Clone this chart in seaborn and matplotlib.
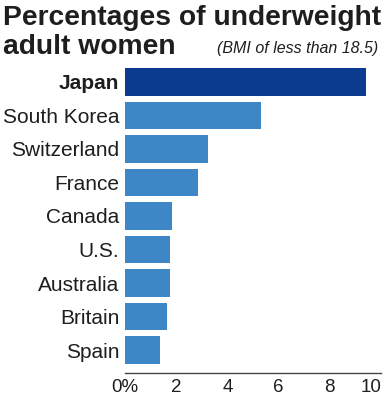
import matplotlib
matplotlib.use('Agg')
import matplotlib.pyplot as plt
import seaborn as sns
import pandas as pd

# chart data
countries = ['Japan', 'South Korea', 'Switzerland', 'France', 'Canada',
             'U.S.', 'Australia', 'Britain', 'Spain']
pct = [9.4, 5.3, 3.25, 2.85, 1.85, 1.75, 1.75, 1.65, 1.35]
xticks = [0, 2, 4, 6, 8, 10]
xtick_labels = ['0%', '2', '4', '6', '8', '10']

dark_blue = '#0a3b8e'
light_blue = '#3d87c7'
colors = [dark_blue] + [light_blue] * (len(countries) - 1)

sns.set_style('white')
plt.rcParams['font.family'] = ['Liberation Sans', 'DejaVu Sans']
txt = '#1e1e1e'

df = pd.DataFrame({'country': countries, 'pct': pct})

fig = plt.figure(figsize=(3.87, 4.0), dpi=100)
ax = fig.add_axes([125 / 387, 27 / 400, 256 / 387, 305 / 400])

sns.barplot(data=df, x='pct', y='country', hue='country', palette=colors,
            legend=False, orient='h', width=0.82, saturation=1, linewidth=0,
            ax=ax)

ax.set_xlim(0, 10)
ax.set_ylim(8 + 0.41 + 0.27, -0.41)
ax.set_xlabel('')
ax.set_ylabel('')
ax.set_xticks(xticks)
ax.set_xticklabels(xtick_labels, fontsize=13.5, color=txt)
ax.get_xticklabels()[-1].set_horizontalalignment('right')
ax.tick_params(axis='x', direction='in', length=5, width=1, color='#444444', pad=4)
ax.tick_params(axis='y', length=0, pad=4, labelsize=15, labelcolor=txt)
for lab in ax.get_yticklabels():
    if lab.get_text() == 'Japan':
        lab.set_fontweight('bold')

for s in ['top', 'right', 'left']:
    ax.spines[s].set_visible(False)
ax.spines['bottom'].set_color('#444444')
ax.spines['bottom'].set_linewidth(1)

fig.text(3 / 387, 1 - 25 / 400, 'Percentages of underweight', fontsize=20.3,
         fontweight='bold', color=txt, ha='left', va='baseline')
fig.text(3 / 387, 1 - 54 / 400, 'adult women', fontsize=20.3,
         fontweight='bold', color=txt, ha='left', va='baseline')
fig.text(378 / 387, 1 - 53 / 400, '(BMI of less than 18.5)', fontsize=11.5,
         fontstyle='italic', color=txt, ha='right', va='baseline')

fig.savefig('out.png', dpi=100)
